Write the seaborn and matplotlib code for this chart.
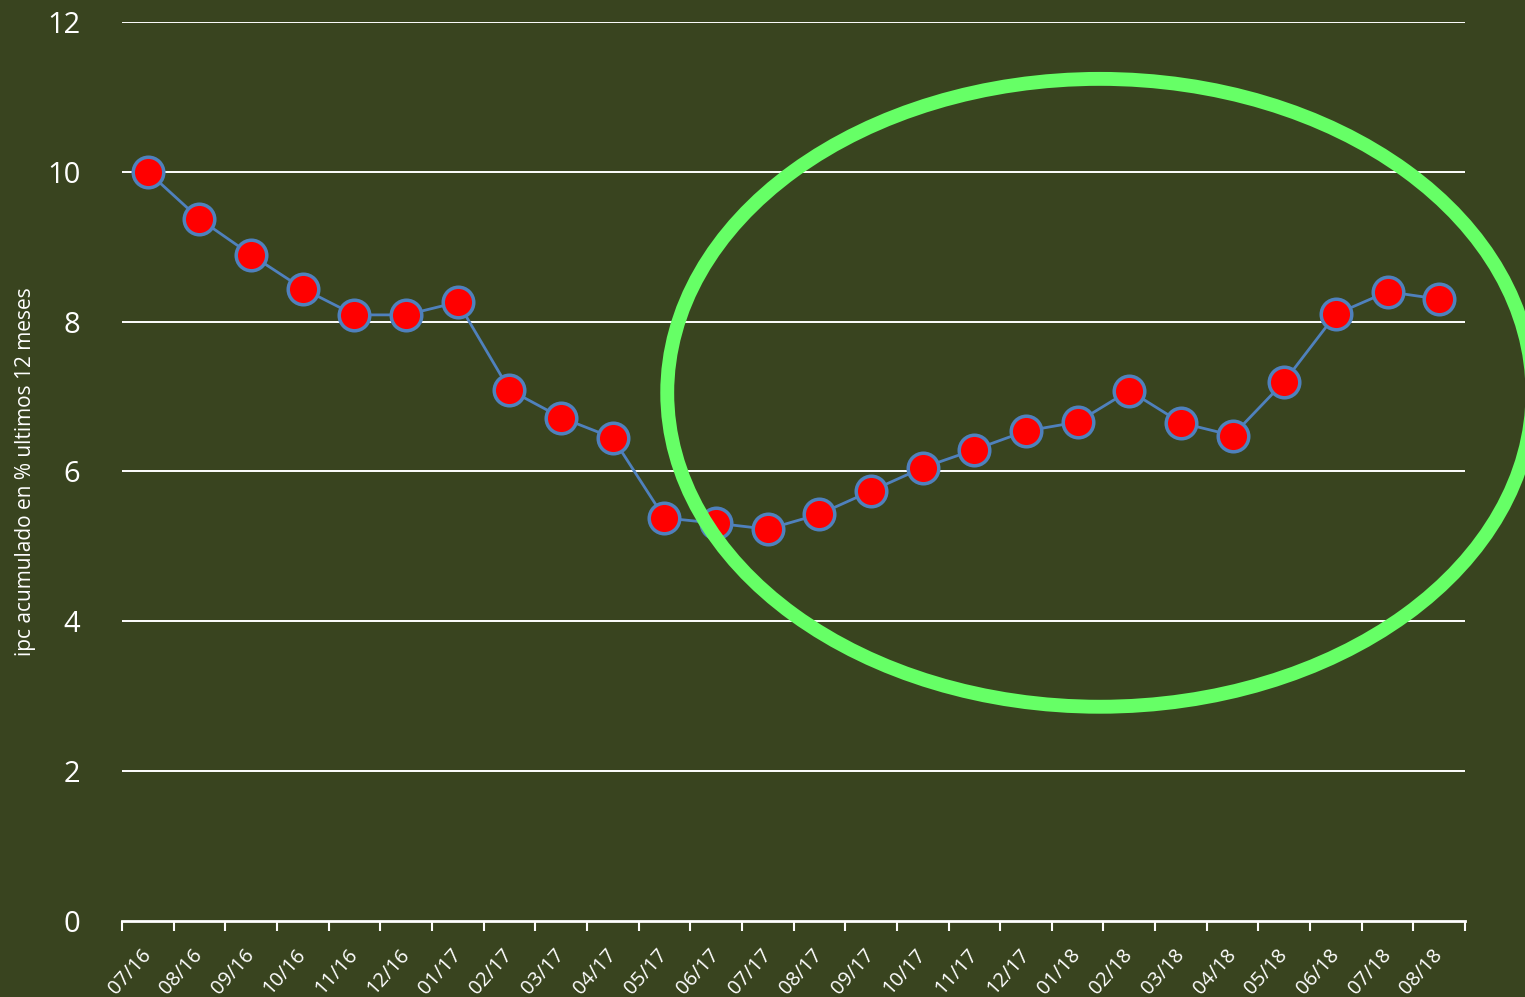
import numpy as np
import pandas as pd
import seaborn as sns
import matplotlib.pyplot as plt
from matplotlib.patches import Ellipse

months = ['07/16', '08/16', '09/16', '10/16', '11/16', '12/16', '01/17', '02/17',
          '03/17', '04/17', '05/17', '06/17', '07/17', '08/17', '09/17', '10/17',
          '11/17', '12/17', '01/18', '02/18', '03/18', '04/18', '05/18', '06/18',
          '07/18', '08/18']
ipc = [10.0, 9.37, 8.89, 8.44, 8.09, 8.09, 8.26, 7.09, 6.72, 6.45, 5.38, 5.31,
       5.23, 5.43, 5.74, 6.05, 6.29, 6.54, 6.66, 7.08, 6.65, 6.48, 7.20, 8.10,
       8.40, 8.30]

bg = '#39441F'
data = pd.DataFrame({'pos': np.arange(len(months)), 'ipc': ipc})

sns.set_style('white')
plt.rcParams['font.family'] = ['Open Sans', 'DejaVu Sans']

fig = plt.figure(figsize=(15.25, 9.97), dpi=100, facecolor=bg)
ax = fig.add_axes([0.08, 0.0762, 0.8807, 0.9018])
ax.set_facecolor(bg)

for v in range(2, 13, 2):
    ax.axhline(v, color='white', lw=1.4, zorder=1)

sns.lineplot(data=data, x='pos', y='ipc', ax=ax, color='#4F81BD', lw=2,
             marker='o', markersize=22, markerfacecolor='#FF0000',
             markeredgecolor='#4F81BD', markeredgewidth=2.5, zorder=3)

ax.set_xlim(-0.5, len(months) - 0.5)
ax.set_ylim(0, 12)
ax.set_yticks(range(0, 13, 2))
ax.tick_params(axis='y', length=0, labelsize=21, labelcolor='white', pad=30)

ax.set_xticks(np.arange(len(months)))
ax.set_xticklabels(months, rotation=48, ha='right', va='center',
                   rotation_mode='anchor')
ax.set_xticks(np.arange(-0.5, len(months)), minor=True)
ax.tick_params(axis='x', which='major', bottom=False, length=0, labelsize=14.5,
               labelcolor='white', pad=22)
ax.tick_params(axis='x', which='minor', bottom=True, length=7, width=1.5,
               color='white', direction='out')

for s in ['top', 'right', 'left']:
    ax.spines[s].set_visible(False)
ax.spines['bottom'].set_color('white')
ax.spines['bottom'].set_linewidth(2)

ax.set_xlabel('')
ax.set_ylabel('ipc acumulado en % ultimos 12 meses', color='white',
              fontsize=15, labelpad=8)

ell = Ellipse((18.43, 7.05), width=16.75, height=8.38, fill=False,
              edgecolor='#66FF66', lw=10, clip_on=False, zorder=4)
ax.add_patch(ell)

fig.savefig('out.png', dpi=100, facecolor=bg)
